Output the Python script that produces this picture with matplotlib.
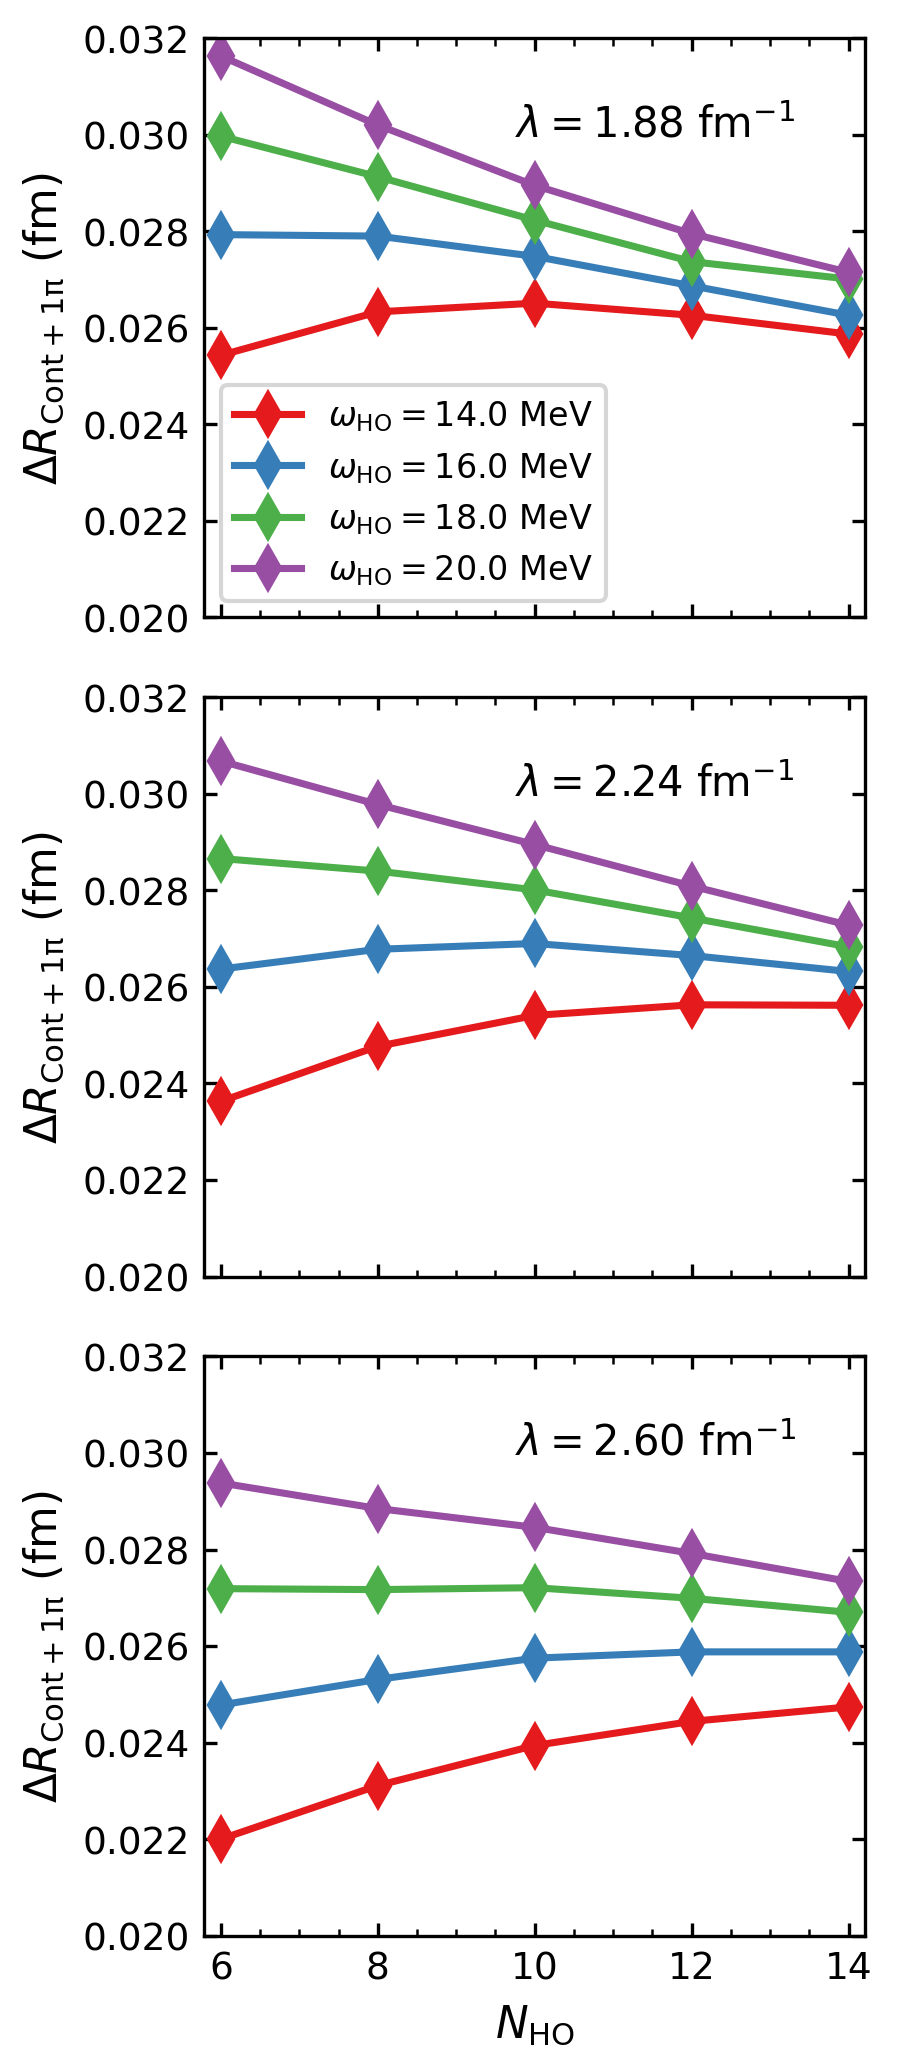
import matplotlib
matplotlib.use("Agg")
import matplotlib.pyplot as plt
from matplotlib.ticker import MultipleLocator, FormatStrFormatter

# N_HO values on the x axis
n_ho = [6, 8, 10, 12, 14]

# oscillator frequencies (MeV) and line colours
omegas = [14.0, 16.0, 18.0, 20.0]
colors = ['#e41a1c', '#377eb8', '#4daf4a', '#984ea3']

# cutoffs for the three panels (fm^-1)
lambdas = [1.88, 2.24, 2.60]

# Delta R (fm), one list per omega, panel by panel
lam188_w14 = [0.02543, 0.02633, 0.02651, 0.02626, 0.02587]
lam188_w16 = [0.02793, 0.02790, 0.02748, 0.02687, 0.02626]
lam188_w18 = [0.02997, 0.02913, 0.02823, 0.02737, 0.02701]
lam188_w20 = [0.03163, 0.03020, 0.02895, 0.02795, 0.02715]

lam224_w14 = [0.02363, 0.02477, 0.02541, 0.02563, 0.02562]
lam224_w16 = [0.02637, 0.02678, 0.02690, 0.02665, 0.02632]
lam224_w18 = [0.02866, 0.02840, 0.02801, 0.02743, 0.02683]
lam224_w20 = [0.03068, 0.02978, 0.02895, 0.02809, 0.02728]

lam260_w14 = [0.02200, 0.02311, 0.02394, 0.02444, 0.02474]
lam260_w16 = [0.02478, 0.02531, 0.02575, 0.02588, 0.02588]
lam260_w18 = [0.02719, 0.02717, 0.02721, 0.02699, 0.02670]
lam260_w20 = [0.02938, 0.02885, 0.02846, 0.02792, 0.02734]

panels = [
    [lam188_w14, lam188_w16, lam188_w18, lam188_w20],
    [lam224_w14, lam224_w16, lam224_w18, lam224_w20],
    [lam260_w14, lam260_w16, lam260_w18, lam260_w20],
]

fig, axes = plt.subplots(3, 1, figsize=(2.99, 6.893), dpi=300, sharex=True)
plt.subplots_adjust(left=0.2278, right=0.9643, top=0.9811, bottom=0.0635, hspace=0.138)

for p, ax in enumerate(axes):
    for k in range(len(omegas)):
        ax.plot(n_ho, panels[p][k], marker='d', color=colors[k], lw=1.7, ms=7,
                label=r'$\omega_{\rm HO} = %.1f$ MeV' % omegas[k])
    ax.set_xlim(5.79, 14.21)
    ax.set_ylim(0.020, 0.032)
    ax.yaxis.set_major_locator(MultipleLocator(0.002))
    ax.yaxis.set_major_formatter(FormatStrFormatter('%.3f'))
    ax.xaxis.set_major_locator(MultipleLocator(2))
    ax.xaxis.set_minor_locator(MultipleLocator(0.5))
    ax.tick_params(which='both', direction='in', top=True, right=True, labelsize=9)
    ax.tick_params(which='major', length=3.2)
    ax.tick_params(which='minor', length=1.8)
    ax.set_ylabel(r'$\Delta R_{\rm Cont+1\pi}$ (fm)', fontsize=10.5)
    ax.text(0.47, 0.83, r'$\lambda = %.2f$ fm$^{-1}$' % lambdas[p],
            transform=ax.transAxes, fontsize=10)

axes[0].legend(loc='lower left', fontsize=8)
axes[-1].set_xlabel(r'$N_{\rm HO}$', fontsize=10.5)

plt.savefig('out.png', dpi=300)
